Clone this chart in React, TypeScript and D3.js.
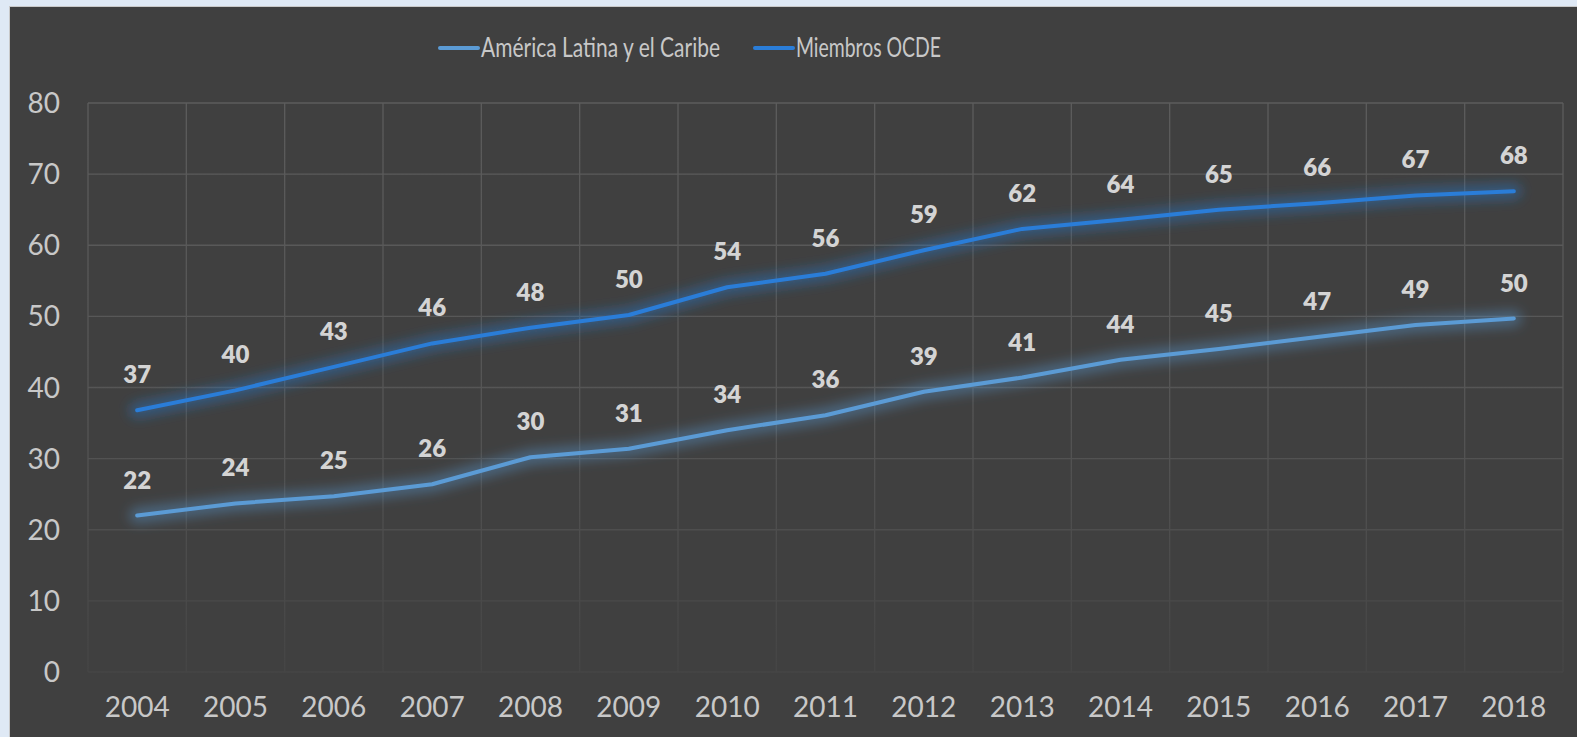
import * as d3 from "d3";
import { useEffect, useRef } from "react";

const years = ["2004", "2005", "2006", "2007", "2008", "2009", "2010", "2011", "2012", "2013", "2014", "2015", "2016", "2017", "2018"];
const latamValues = [22.0, 23.7, 24.7, 26.4, 30.2, 31.4, 34.0, 36.1, 39.4, 41.4, 43.9, 45.4, 47.1, 48.8, 49.7];
const oecdValues = [36.8, 39.6, 42.9, 46.2, 48.4, 50.2, 54.1, 56.0, 59.3, 62.3, 63.6, 65.0, 65.9, 67.0, 67.6];
const yTicks = [0, 10, 20, 30, 40, 50, 60, 70, 80];
const seriesNames = ["América Latina y el Caribe", "Miembros OCDE"];

const colors = ["#5b9bd5", "#2a7dd8"];
const FONT = "Lato, 'Open Sans', sans-serif";

export default function App() {
  const svgRef = useRef<SVGSVGElement | null>(null);

  useEffect(() => {
    if (!svgRef.current) return;
    const width = 1577;
    const height = 737;
    const plot = { left: 88, right: 1563, top: 103, bottom: 672 };

    const svg = d3.select(svgRef.current);
    svg.selectAll("*").remove();
    svg.attr("width", width).attr("height", height).attr("viewBox", `0 0 ${width} ${height}`);

    const defs = svg.append("defs");
    const gridGrad = defs
      .append("linearGradient")
      .attr("id", "gridFade")
      .attr("gradientUnits", "userSpaceOnUse")
      .attr("x1", 0)
      .attr("x2", 0)
      .attr("y1", plot.top)
      .attr("y2", plot.bottom);
    gridGrad.append("stop").attr("offset", "0%").attr("stop-color", "#5c5c5c");
    gridGrad.append("stop").attr("offset", "55%").attr("stop-color", "#555555");
    gridGrad.append("stop").attr("offset", "100%").attr("stop-color", "#454545");

    const glow = defs.append("filter").attr("id", "glow").attr("x", "-10%").attr("y", "-50%").attr("width", "120%").attr("height", "200%");
    glow.append("feGaussianBlur").attr("stdDeviation", 6);

    // page + panel
    svg.append("rect").attr("width", width).attr("height", height).attr("fill", "#dfe9f5");
    svg.append("rect").attr("x", 9).attr("y", 6).attr("width", width - 9).attr("height", height - 6).attr("fill", "#c9c9c9");
    svg.append("rect").attr("x", 10).attr("y", 7).attr("width", width - 10).attr("height", height - 7).attr("fill", "#404040");

    const x = d3.scaleBand<string>().domain(years).range([plot.left, plot.right]);
    const y = d3.scaleLinear().domain([0, 80]).range([plot.bottom, plot.top]);
    const cx = (yr: string) => (x(yr) ?? 0) + x.bandwidth() / 2;

    const grid = svg.append("g").attr("stroke", "url(#gridFade)").attr("stroke-width", 1.3);
    grid
      .selectAll("line.h")
      .data(yTicks)
      .join("line")
      .attr("class", "h")
      .attr("x1", plot.left)
      .attr("x2", plot.right)
      .attr("y1", (d) => y(d))
      .attr("y2", (d) => y(d));
    const vLines = [...years.map((yr) => x(yr) ?? 0), plot.right];
    grid
      .selectAll("line.v")
      .data(vLines)
      .join("line")
      .attr("class", "v")
      .attr("x1", (d) => d)
      .attr("x2", (d) => d)
      .attr("y1", plot.top)
      .attr("y2", plot.bottom);

    svg
      .append("g")
      .selectAll("text")
      .data(yTicks)
      .join("text")
      .attr("x", 60)
      .attr("y", (d) => y(d))
      .attr("dy", "0.36em")
      .attr("text-anchor", "end")
      .attr("font-family", FONT)
      .attr("font-size", 28)
      .attr("fill", "#c8c8c8")
      .text((d) => d);

    svg
      .append("g")
      .selectAll("text")
      .data(years)
      .join("text")
      .attr("x", (d) => cx(d))
      .attr("y", 717)
      .attr("text-anchor", "middle")
      .attr("font-family", FONT)
      .attr("font-size", 28)
      .attr("fill", "#c8c8c8")
      .text((d) => d);

    const line = d3
      .line<number>()
      .x((_, i) => cx(years[i]))
      .y((d) => y(d));

    const allSeries = [latamValues, oecdValues];
    allSeries.forEach((values, si) => {
      svg
        .append("path")
        .datum(values)
        .attr("d", line)
        .attr("fill", "none")
        .attr("stroke", colors[si])
        .attr("stroke-opacity", 0.4)
        .attr("stroke-width", 16)
        .attr("stroke-linecap", "round")
        .attr("filter", "url(#glow)");
    });
    allSeries.forEach((values, si) => {
      svg
        .append("path")
        .datum(values)
        .attr("d", line)
        .attr("fill", "none")
        .attr("stroke", colors[si])
        .attr("stroke-width", 4)
        .attr("stroke-linecap", "round")
        .attr("stroke-linejoin", "round");

      svg
        .append("g")
        .selectAll("text")
        .data(values)
        .join("text")
        .attr("x", (_, i) => cx(years[i]))
        .attr("y", (d) => y(d) - 27)
        .attr("text-anchor", "middle")
        .attr("font-family", FONT)
        .attr("font-weight", 800)
        .attr("font-size", 24)
        .attr("fill", "#d4d4d4")
        .text((d) => Math.round(d));
    });

    // legend
    const legendX = [440, 755];
    const legendLen = [239, 145];
    seriesNames.forEach((name, si) => {
      const g = svg.append("g").attr("transform", `translate(${legendX[si]},48)`);
      g.append("line")
        .attr("x1", 0)
        .attr("x2", 38)
        .attr("stroke", colors[si])
        .attr("stroke-width", 4)
        .attr("stroke-linecap", "round");
      g.append("text")
        .attr("x", 41)
        .attr("y", 9)
        .attr("font-family", FONT)
        .attr("font-size", 26)
        .attr("fill", "#c8c8c8")
        .attr("textLength", legendLen[si])
        .attr("lengthAdjust", "spacingAndGlyphs")
        .text(name);
    });
  }, []);

  return <svg ref={svgRef} style={{ position: "absolute", left: 0, top: 0, display: "block" }} />;
}
